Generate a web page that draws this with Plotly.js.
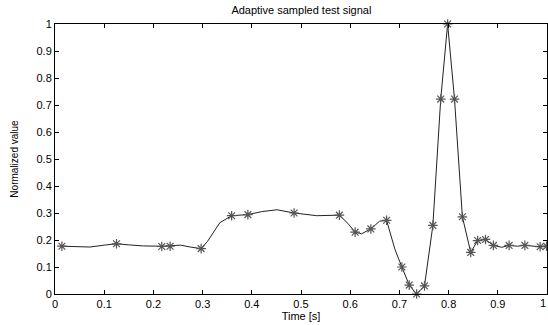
<!DOCTYPE html>
<html>
<head>
<meta charset="utf-8">
<script src="https://cdn.plot.ly/plotly-3.0.1.min.js"></script>
<style>html,body{margin:0;padding:0;background:#fff;}#chart{width:548px;height:325px;}</style>
</head>
<body>
<div id="chart"></div>
<script>
// Continuous test signal
const signalTime = [0.014,0.04,0.071,0.1,0.125,0.15,0.18,0.217,0.234,0.255,0.275,0.297,0.31,0.322,0.335,0.359,0.392,0.42,0.451,0.486,0.532,0.578,0.595,0.610,0.623,0.642,0.66,0.674,0.691,0.705,0.720,0.735,0.751,0.768,0.784,0.798,0.812,0.828,0.845,0.859,0.875,0.891,0.908,0.923,0.94,0.955,0.97,0.986,0.999];
const signalValue = [0.177,0.176,0.174,0.181,0.186,0.182,0.178,0.177,0.178,0.181,0.174,0.168,0.195,0.227,0.264,0.290,0.294,0.305,0.312,0.300,0.290,0.292,0.262,0.229,0.223,0.241,0.270,0.272,0.165,0.100,0.033,0.0,0.030,0.254,0.722,1.0,0.722,0.286,0.154,0.198,0.202,0.180,0.173,0.180,0.177,0.180,0.177,0.175,0.177];
// Adaptive sample points
const sampleTime = [0.014,0.125,0.217,0.234,0.297,0.359,0.392,0.486,0.578,0.610,0.642,0.674,0.705,0.720,0.735,0.751,0.768,0.784,0.798,0.812,0.828,0.845,0.859,0.875,0.891,0.923,0.955,0.986,0.999];
const sampleValue = [0.177,0.186,0.176,0.177,0.168,0.290,0.294,0.300,0.292,0.229,0.241,0.273,0.100,0.033,0.0,0.030,0.254,0.722,1.0,0.722,0.286,0.154,0.198,0.202,0.180,0.180,0.180,0.175,0.177];
const xTicks = [0,0.1,0.2,0.3,0.4,0.5,0.6,0.7,0.8,0.9,1];
const xTickText = ['0','0.1','0.2','0.3','0.4','0.5','0.6','0.7','0.8','0.9','1'];
const yTicks = [0,0.1,0.2,0.3,0.4,0.5,0.6,0.7,0.8,0.9,1];
const yTickText = ['0','0.1','0.2','0.3','0.4','0.5','0.6','0.7','0.8','0.9','1'];

const font = {family: 'Liberation Sans, Arial, sans-serif', size: 11, color: '#000'};
const traces = [
  {x: signalTime, y: signalValue, mode: 'lines', line: {color: '#222', width: 1}, hoverinfo: 'skip', cliponaxis: false},
  {x: sampleTime, y: sampleValue, mode: 'markers', marker: {symbol: 'asterisk-open', size: 8, color: '#555', line: {color: '#555', width: 1.2}}, cliponaxis: false}
];
const axisCommon = {
  showline: true, linecolor: '#000', linewidth: 1, mirror: 'ticks',
  ticks: 'inside', ticklen: 4, tickcolor: '#000', tickwidth: 1,
  showgrid: false, zeroline: false, tickfont: font, fixedrange: true
};
const lastX = xTicks[xTicks.length - 1];
const layout = {
  width: 548, height: 325,
  margin: {l: 55, r: 1, t: 24, b: 31},
  paper_bgcolor: '#fff', plot_bgcolor: '#fff',
  showlegend: false,
  font: font,
  title: {text: 'Adaptive sampled test signal', font: {family: font.family, size: 11, color: '#000'}, x: 0.55, xanchor: 'center', y: 0.98, yanchor: 'top'},
  xaxis: Object.assign({}, axisCommon, {range: [0, 1.000001], tickvals: xTicks, ticktext: xTickText,
    title: {text: 'Time [s]', font: {family: font.family, size: 11, color: '#000'}, standoff: 0}}),
  yaxis: Object.assign({}, axisCommon, {range: [0, 1], tickvals: yTicks, ticktext: yTickText,
    title: {text: 'Normalized value', font: {family: 'Liberation Sans Narrow, Liberation Sans, Arial, sans-serif', size: 10, color: '#000'}, standoff: 16}}),
  annotations: [{x: lastX, xref: 'x', y: 0, yref: 'paper', text: xTickText[xTickText.length - 1], showarrow: false,
    xanchor: 'right', yanchor: 'top', yshift: -2, xshift: 0, borderpad: 0, font: font}]
};
Plotly.newPlot('chart', traces, layout, {displayModeBar: false, staticPlot: true});
</script>
</body>
</html>
